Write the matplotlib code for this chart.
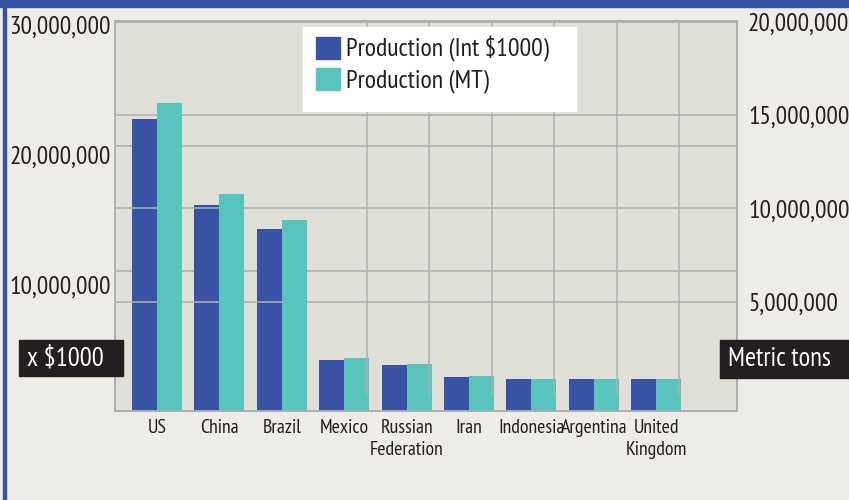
import matplotlib
matplotlib.use("Agg")
import matplotlib.pyplot as plt
from matplotlib.patches import Rectangle, Patch
from matplotlib.transforms import ScaledTranslation
import numpy as np

# Data
countries = ["US", "China", "Brazil", "Mexico", "Russian\nFederation", "Iran",
             "Indonesia", "Argentina", "United\nKingdom"]
prod_int = [22.46e6, 15.85e6, 14.0e6, 3.92e6, 3.54e6, 2.62e6, 2.46e6, 2.46e6, 2.46e6]
prod_mt = [15.79e6, 11.13e6, 9.79e6, 2.72e6, 2.41e6, 1.79e6, 1.64e6, 1.64e6, 1.64e6]
left_ticks = [10e6, 20e6, 30e6]
right_ticks = [5e6, 10e6, 15e6, 20e6]

W, H = 849, 500
BG = "#edece7"
PLOT_BG = "#dfdfd7"
BLUE = "#3953a4"
TEAL = "#58c4bb"
GRID = "#acafb1"
DARK = "#231f20"

plt.rcParams["font.family"] = ["PT Sans Narrow", "DejaVu Sans"]


def fig_box(x0, y0, x1, y1):
    # pixel box (top-left origin) -> figure fraction (x, y, w, h)
    return x0 / W, 1 - y1 / H, (x1 - x0) / W, (y1 - y0) / H


fig = plt.figure(figsize=(W / 100, H / 100), dpi=100, facecolor=BG)
ax = fig.add_axes(fig_box(115, 21, 737, 411))
ax.set_facecolor(PLOT_BG)
ax2 = ax.twinx()

x = np.arange(len(countries))
w = 0.4
ax.set_xlim(-0.673, 9.295)
ax.set_ylim(0, 30e6)
ax2.set_ylim(0, 20e6)

# grid is drawn on a slightly shifted scale, as in the original
grid_zero = 16 / 390
grid_span = 0.9565
for v in left_ticks:
    ax.axhline(30e6 * (grid_zero + grid_span * v / 30e6), color=GRID, lw=1.1, zorder=0.5)
for v in right_ticks:
    ax2.axhline(20e6 * (grid_zero + grid_span * v / 20e6), color=GRID, lw=1.1, zorder=0.5)

ax.bar(x - w / 2, prod_int, width=w, color=BLUE, zorder=2)
ax2.bar(x + w / 2, prod_mt, width=w, color=TEAL, zorder=2)

for xi in x[3:]:
    ax2.axvline(xi + 0.365, ymin=grid_zero, ymax=1, color=GRID, lw=1.1, zorder=3)

for a in (ax, ax2):
    for s in a.spines.values():
        s.set_color(GRID)
        s.set_linewidth(1.2)
    a.tick_params(length=0, colors=DARK)

ax.set_xticks(x)
ax.set_xticklabels(countries, fontsize=14.3, color=DARK, linespacing=1.25)
ax.tick_params(axis="x", pad=6)
ax.set_yticks(left_ticks)
ax.set_yticklabels([f"{v:,.0f}" for v in left_ticks], fontsize=18.3)
ax.tick_params(axis="y", pad=3)
# left labels sit a little below their ticks in the original
shift = ScaledTranslation(0, -4 / 100, fig.dpi_scale_trans)
for lab in ax.get_yticklabels():
    lab.set_transform(lab.get_transform() + shift)

ax2.set_yticks([20e6 * (grid_zero + grid_span * v / 20e6) for v in right_ticks])
ax2.set_yticklabels([f"{v:,.0f}" for v in right_ticks], fontsize=18.3)
ax2.tick_params(axis="y", pad=8)

# frame decoration
fig.patches.append(Rectangle(fig_box(0, 0, W, 7)[:2], 1, 7 / H, transform=fig.transFigure,
                             color=BLUE, zorder=1))
fig.patches.append(Rectangle(fig_box(3, 0, 6, H)[:2], 3 / W, 1, transform=fig.transFigure,
                             color=BLUE, zorder=1))

# legend
bx, by, bw, bh = fig_box(303, 27, 576, 111)
fig.patches.append(Rectangle((bx, by), bw, bh, transform=fig.transFigure,
                             color="white", zorder=1))
handles = [Patch(color=BLUE), Patch(color=TEAL)]
fig.legend(handles, ["Production (Int $1000)", "Production (MT)"],
           loc="upper left", bbox_to_anchor=(316 / W, 1 - 36 / H), frameon=False,
           fontsize=18.6, handlelength=0.93, handleheight=0.93, handletextpad=0.22,
           labelspacing=0.22, borderpad=0, borderaxespad=0, labelcolor=DARK)

# axis unit boxes
for (x0, y0, x1, y1), txt in [((19, 340, 123, 376), "x $1000"),
                              ((720, 340, 849, 378), "Metric tons")]:
    rx, ry, rw, rh = fig_box(x0, y0, x1, y1)
    fig.patches.append(Rectangle((rx, ry), rw, rh, transform=fig.transFigure,
                                 color=DARK, zorder=1))
    fig.text(rx + 8 / W, ry + rh / 2, txt, color="white", fontsize=19.2,
             va="center", ha="left", zorder=2)

fig.savefig("out.png", dpi=100, facecolor=BG)
